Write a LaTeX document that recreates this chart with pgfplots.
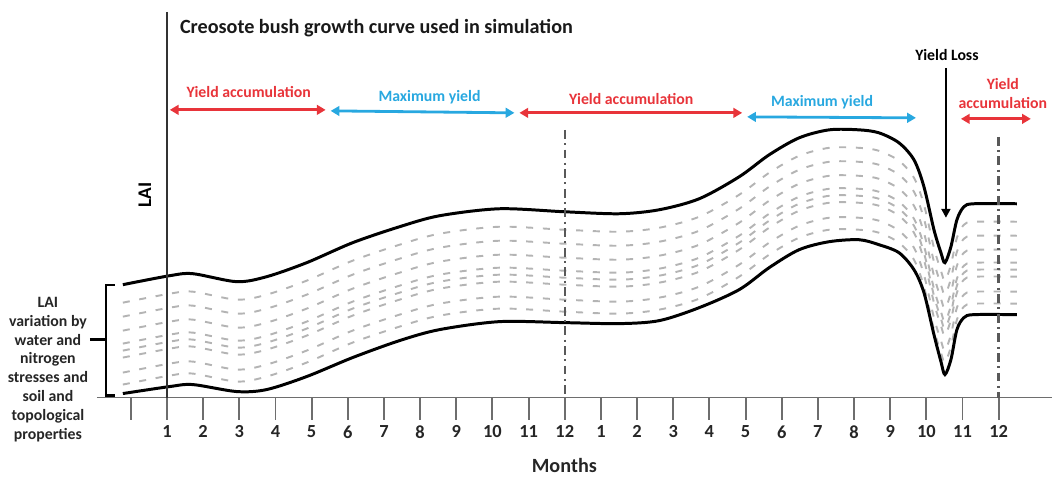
\documentclass[border=0pt]{standalone}
\usepackage{fontspec}
\setmainfont{Carlito}
\usepackage{pgfplots}
\usepackage{pgfplotstable}
\pgfplotsset{compat=1.18}
\usetikzlibrary{arrows.meta}
\definecolor{accred}{RGB}{232,52,58}
\definecolor{maxblue}{RGB}{40,168,224}
\definecolor{dashgray}{RGB}{180,180,180}
\definecolor{axgray}{RGB}{110,110,110}

% x in pixels of the original figure, y = -(pixel row)
% T = upper LAI envelope, B = lower envelope, d1..d8 = intermediate cases
\pgfplotstableread{
x    T    B    d1   d2   d3   d4   d5   d6   d7   d8
123  -285 -394 -303 -317 -331 -344 -351 -358 -373 -385
170  -276 -387 -294 -308 -322 -335 -342 -349 -364 -376
193  -274 -385 -292 -306 -320 -333 -340 -347 -362 -374
237  -282 -392 -300 -314 -328 -341 -348 -355 -370 -382
267  -277 -390 -295 -309 -323 -336 -343 -350 -365 -377
307  -263 -377 -281 -295 -309 -322 -329 -336 -351 -363
353  -243 -358 -261 -275 -289 -302 -309 -316 -331 -343
400  -227 -341 -245 -259 -273 -286 -293 -300 -315 -327
440  -216 -330 -234 -248 -262 -275 -282 -289 -304 -316
500  -209 -322 -227 -241 -255 -268 -275 -282 -297 -309
565  -212 -323 -230 -244 -258 -271 -278 -285 -300 -312
620  -214 -324 -232 -246 -260 -273 -280 -287 -302 -314
660  -210 -321 -228 -242 -256 -269 -276 -283 -298 -310
700  -199 -308 -217 -231 -245 -258 -265 -272 -287 -299
740  -177 -290 -195 -209 -223 -236 -243 -250 -265 -277
770  -155 -268 -173 -187 -201 -214 -221 -228 -243 -255
800  -138 -250 -156 -170 -184 -197 -204 -211 -226 -238
830  -130 -242 -148 -162 -176 -189 -196 -203 -218 -230
860  -130 -240 -148 -162 -176 -189 -196 -203 -218 -230
880  -133 -245 -151 -165 -179 -192 -199 -206 -221 -233
900  -143 -253 -161 -175 -189 -202 -209 -216 -231 -243
915  -160 -270 -178 -192 -206 -219 -226 -233 -248 -260
925  -187 -293 -205 -219 -233 -246 -253 -260 -275 -287
935  -230 -335 -248 -262 -276 -289 -296 -303 -318 -330
942  -253 -362 -271 -285 -299 -312 -319 -326 -341 -353
946  -263 -375 -281 -295 -309 -322 -329 -336 -351 -363
952  -247 -360 -265 -279 -293 -306 -313 -320 -335 -347
958  -220 -330 -238 -252 -266 -279 -286 -293 -308 -320
965  -207 -318 -225 -239 -253 -266 -273 -280 -295 -307
975  -204 -315 -222 -236 -250 -263 -270 -277 -292 -304
1018 -204 -315 -222 -236 -250 -263 -270 -277 -292 -304
}\laitab

\begin{document}
\begin{tikzpicture}[
    lbl/.style={font=\fontsize{9}{10.8}\selectfont\bfseries},
    dbl/.style={line width=1.6pt,
      {Triangle[length=5pt,width=5.5pt]}-{Triangle[length=5pt,width=5.5pt]}},
  ]
  \begin{axis}[
    x=0.02cm, y=0.02cm,
    xmin=97, xmax=1053, ymin=-398, ymax=0,
    axis x line*=bottom, axis y line=none,
    clip=false,
    xtick={131,167.2,203.4,239.6,275.8,312,348.2,384.4,420.6,456.8,493,529.2,565.4,
           601.6,637.8,674,710.2,746.4,782.6,818.8,855,891.2,927.4,963.6,999.8},
    xticklabels={{},1,2,3,4,5,6,7,8,9,10,11,12,1,2,3,4,5,6,7,8,9,10,11,12},
    tick align=outside,
    major tick length=0.44cm,
    x axis line style={axgray, line width=1pt},
    xtick style={axgray, line width=1.1pt},
    xticklabel style={font=\fontsize{10.5}{12}\selectfont\bfseries, text=black!85},
  ]
    % page frame (same proportions as the original figure)
    \path (axis cs:0,0) rectangle (axis cs:1053,-478);

    % intermediate LAI curves
    \foreach \c in {d1,d2,d3,d4,d5,d6,d7,d8}{
      \addplot[dashgray, line width=1.1pt, dash pattern=on 4pt off 5.5pt, smooth]
        table[x=x, y=\c]{\laitab};
    }
    % envelopes
    \addplot[black, line width=1.7pt, smooth] table[x=x, y=T]{\laitab};
    \addplot[black, line width=1.7pt, smooth] table[x=x, y=B]{\laitab};

    % month-1 axis line and year separators
    \draw[black!80, line width=1pt] (axis cs:167.2,-12) -- (axis cs:167.2,-398);
    \draw[black!65, line width=1.4pt, dash pattern=on 5pt off 2.5pt on 1.2pt off 2.5pt]
      (axis cs:565.4,-130) -- (axis cs:565.4,-398);
    \draw[black!65, line width=1.4pt, dash pattern=on 5pt off 2.5pt on 1.2pt off 2.5pt]
      (axis cs:999.8,-137) -- (axis cs:999.8,-398);

    % title and axis names
    \node[anchor=west, font=\fontsize{11.5}{13}\selectfont\bfseries, text=black!90]
      at (axis cs:174,-28) {Creosote bush growth curve used in simulation};
    \node[rotate=90, font=\fontsize{11}{12}\selectfont\bfseries]
      at (axis cs:145,-195) {LAI};
    \node[font=\fontsize{11.5}{13}\selectfont\bfseries, text=black!85]
      at (axis cs:565,-466) {Months};

    % phase arrows
    \draw[accred, dbl] (axis cs:170,-110) -- (axis cs:326,-110);
    \node[lbl, text=accred] at (axis cs:249,-92) {Yield accumulation};
    \draw[maxblue, dbl] (axis cs:331,-111) -- (axis cs:515,-113);
    \node[lbl, text=maxblue] at (axis cs:430,-97) {Maximum yield};
    \draw[accred, dbl] (axis cs:520,-113) -- (axis cs:743,-113);
    \node[lbl, text=accred] at (axis cs:632,-99) {Yield accumulation};
    \draw[maxblue, dbl] (axis cs:748,-117) -- (axis cs:917,-118);
    \node[lbl, text=maxblue] at (axis cs:823,-102) {Maximum yield};
    \draw[accred, dbl] (axis cs:962,-119) -- (axis cs:1032,-119);
    \node[lbl, text=accred, align=center] at (axis cs:1004,-94) {Yield\\accumulation};

    % yield loss
    \node[lbl] at (axis cs:948,-55) {Yield Loss};
    \draw[black, line width=1.3pt, -{Triangle[length=5pt,width=5pt]}]
      (axis cs:947,-68) -- (axis cs:947,-218);

    % bracket and its note
    \draw[black, line width=1.3pt] (axis cs:115,-285) -- (axis cs:106,-285)
      -- (axis cs:106,-396) -- (axis cs:115,-396);
    \draw[black, line width=1.3pt] (axis cs:90,-340) -- (axis cs:106,-340);
    \node[lbl, align=center, text=black!85] at (axis cs:48,-370)
      {LAI\\variation by\\water and\\nitrogen\\stresses and\\soil and\\topological\\properties};
  \end{axis}
\end{tikzpicture}
\end{document}
